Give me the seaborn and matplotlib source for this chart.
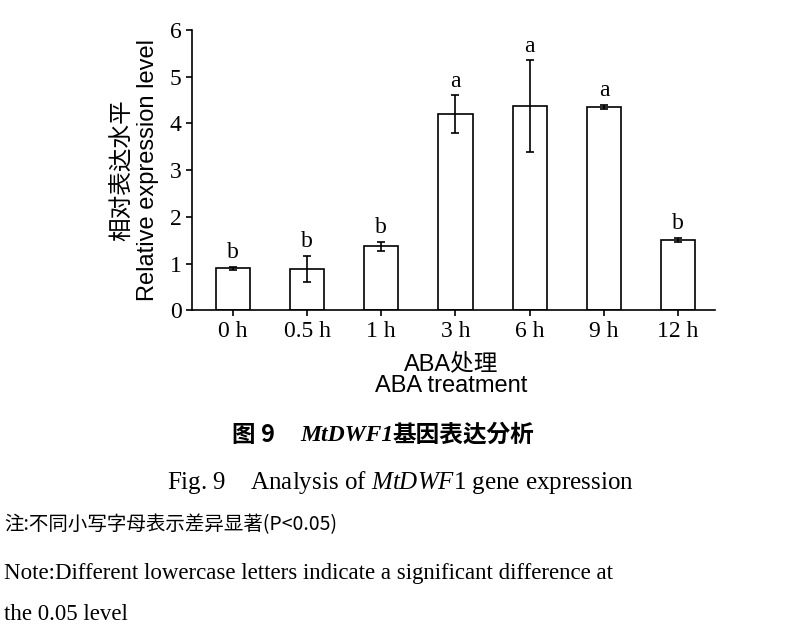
import matplotlib
matplotlib.use("Agg")
import matplotlib.pyplot as plt
import seaborn as sns
import pandas as pd

categories = ["0 h", "0.5 h", "1 h", "3 h", "6 h", "9 h", "12 h"]
values = [0.90, 0.88, 1.37, 4.20, 4.37, 4.35, 1.50]
errors = [0.03, 0.28, 0.10, 0.40, 0.98, 0.05, 0.05]
letters = ["b", "b", "b", "a", "a", "a", "b"]

cjk_names = ["Noto Sans CJK SC", "Noto Sans CJK JP", "Noto Sans CJK TC", "Noto Sans CJK KR"]
serif = ["Liberation Serif"] + cjk_names
cjk = cjk_names
sans = ["Liberation Sans"] + cjk_names
plt.rcParams["font.family"] = serif
plt.rcParams["mathtext.fontset"] = "custom"
plt.rcParams["mathtext.it"] = "Liberation Serif:italic"
plt.rcParams["mathtext.rm"] = "Liberation Serif"

df = pd.DataFrame({"t": categories, "v": values})
fig = plt.figure(figsize=(8, 6.37), dpi=100)
ax = fig.add_axes([0.24, 0.513, 0.654, 0.44])
sns.barplot(data=df, x="t", y="v", ax=ax, color="white", edgecolor="black",
            linewidth=1.2, width=0.46, errorbar=None)
ax.errorbar(range(len(values)), values, yerr=errors, fmt="none", ecolor="black",
            elinewidth=1.2, capsize=3, capthick=1.2)
for i, (v, e, l) in enumerate(zip(values, errors, letters)):
    ax.text(i, v + e + 0.08, l, ha="center", va="bottom", fontsize=17)
ax.set_ylim(0, 6)
ax.set_xlim(-0.55, 6.5)
ax.set_yticks(range(7))
ax.tick_params(labelsize=17, width=1.2, length=4)
for s in ["top", "right"]:
    ax.spines[s].set_visible(False)
for s in ["left", "bottom"]:
    ax.spines[s].set_linewidth(1.2)
ax.set_xlabel("")
ax.set_ylabel("")
fig.text(0.153, 0.733, "相对表达水平", rotation=90, ha="center", va="center",
         fontsize=17, fontfamily=cjk)
fig.text(0.185, 0.733, "Relative expression level", rotation=90, ha="center",
         va="center", fontsize=17, fontfamily=sans)
fig.text(0.564, 0.428, "ABA处理", ha="center", va="center", fontsize=17,
         fontfamily=sans)
fig.text(0.564, 0.394, "ABA treatment", ha="center", va="center", fontsize=17,
         fontfamily=sans)
fig.text(0.29, 0.317, "图 9", ha="left", va="center", fontsize=17,
         fontweight="bold", fontfamily=cjk)
fig.text(0.375, 0.317, "MtDWF1", ha="left", va="center", fontsize=17,
         fontweight="bold", fontstyle="italic", fontfamily=serif)
fig.text(0.49, 0.317, "基因表达分析", ha="left", va="center", fontsize=17,
         fontweight="bold", fontfamily=cjk)
fig.text(0.5, 0.242, "Fig. 9    Analysis of $\\it{MtDWF1}$ gene expression",
         ha="center", va="center", fontsize=18)
fig.text(0.005, 0.177, "注:不同小写字母表示差异显著(P<0.05)", ha="left",
         va="center", fontsize=14, fontfamily=cjk)
fig.text(0.005, 0.100, "Note:Different lowercase letters indicate a significant difference at",
         ha="left", va="center", fontsize=16.5)
fig.text(0.005, 0.035, "the 0.05 level", ha="left", va="center", fontsize=16.5)
fig.savefig("out.png", dpi=100, facecolor="white")
